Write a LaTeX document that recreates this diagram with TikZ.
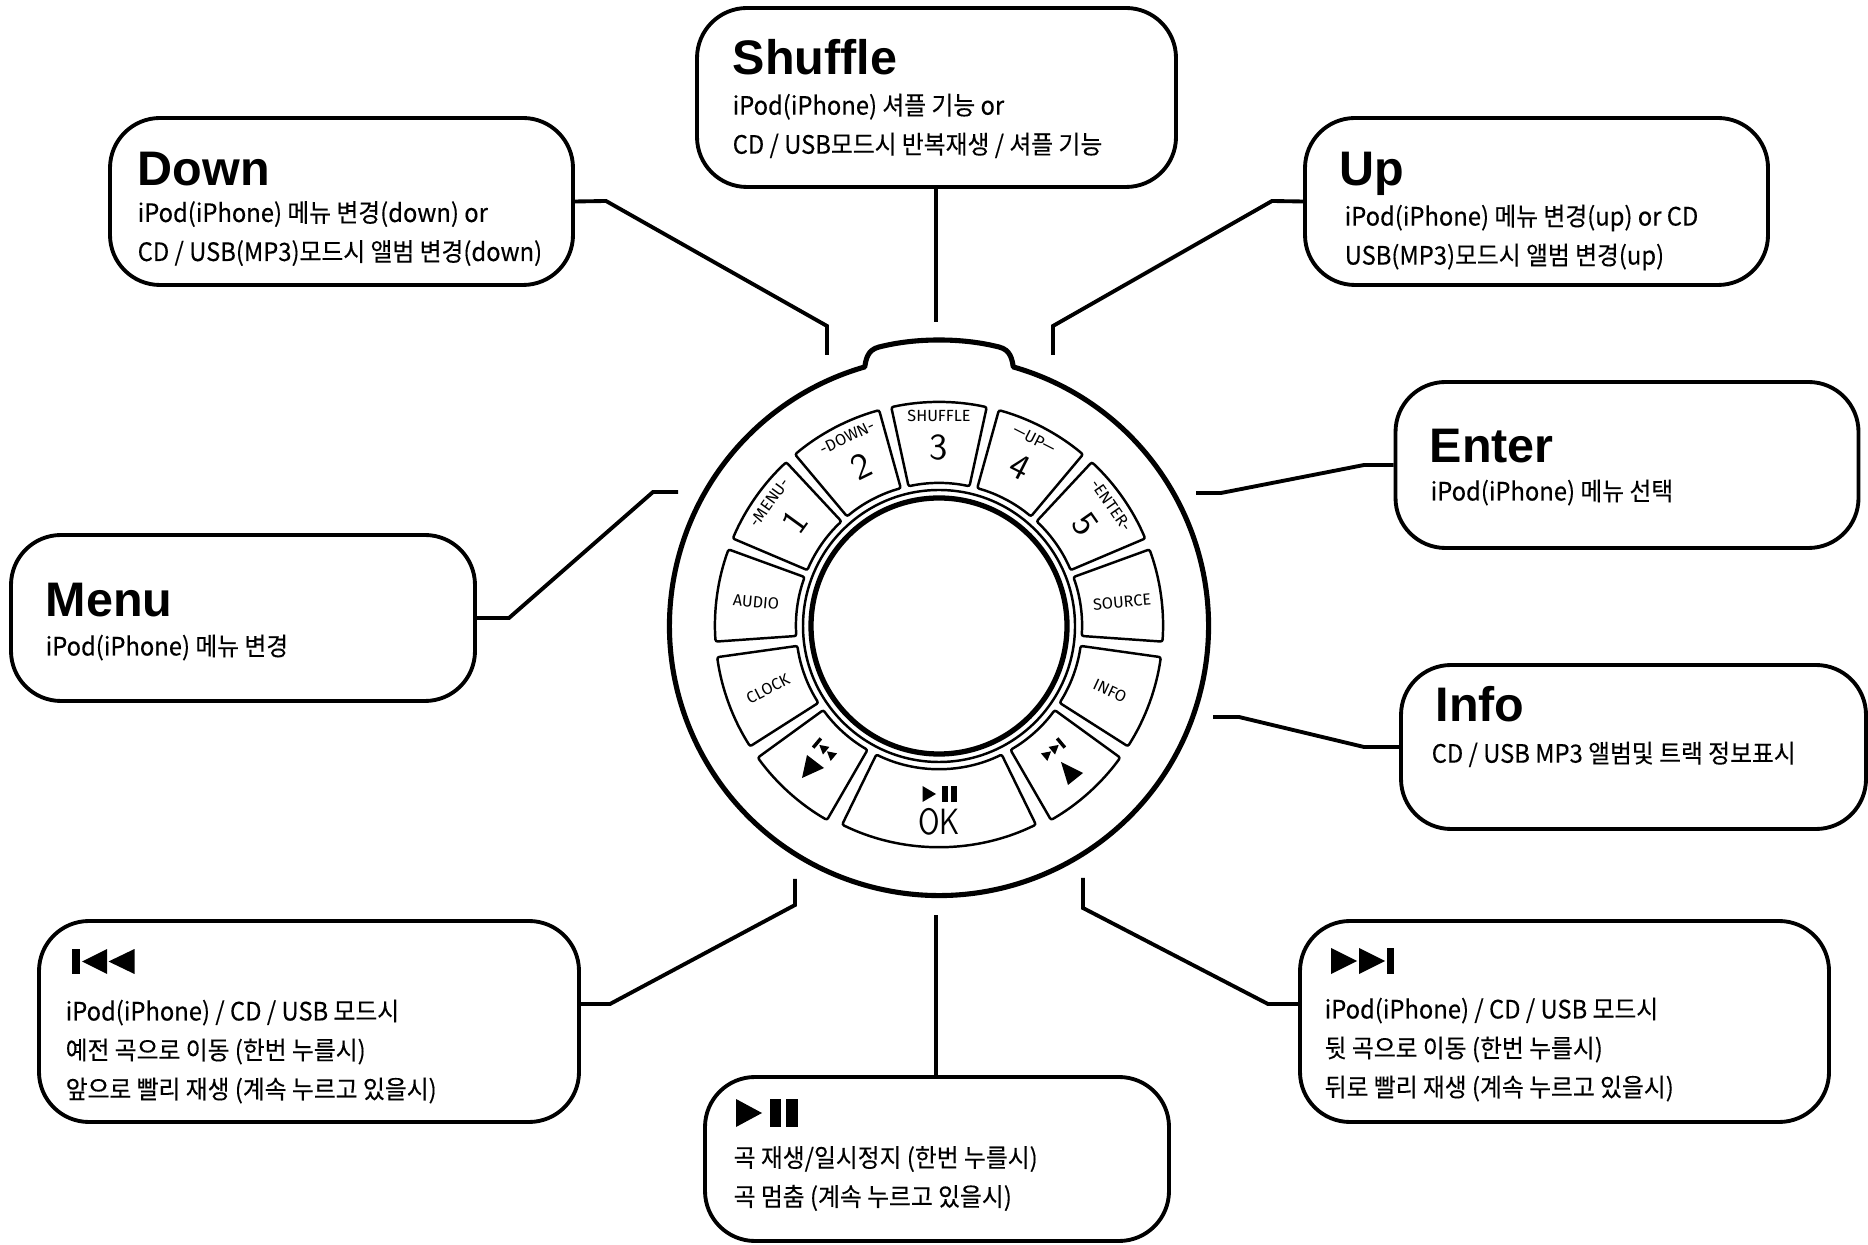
\documentclass[tikz,border=0pt]{standalone}
\usepackage{fontspec}
\usetikzlibrary{calc}
\newfontfamily\bodyfont[FakeStretch=.94,FakeBold=.25]{Noto Sans CJK KR}
\newfontfamily\titlefont{Liberation Sans}
\newfontfamily\dialfont{Fira Sans}
\tikzset{
  box/.style={draw, line width=1.1pt, rounded corners=.5cm, inner sep=0pt},
  leader/.style={line width=1.1pt},
  title/.style={anchor=base west, inner sep=0pt, font=\titlefont\bfseries\fontsize{13.8}{14}\selectfont},
  body/.style={anchor=west, inner sep=0pt, align=left, font=\bodyfont\fontsize{7.2}{11.1}\selectfont},
  dialbtn/.style={draw, line width=.7pt, rounded corners=.6pt},
  dialtext/.style={inner sep=0pt, font=\dialfont\fontsize{4.6}{5}\selectfont},
  dialdigit/.style={inner sep=0pt, font=\sffamily\fontsize{10.4}{11}\selectfont},
}
\begin{document}
\begin{tikzpicture}
\useasboundingbox (0,0) rectangle (18.68,12.44);

%boxes
\node[box, minimum width=4.79cm, minimum height=1.79cm] (boxShuffle) at (9.365,11.465) {};
\node[box, minimum width=4.63cm, minimum height=1.67cm] (boxDown) at (3.415,10.425) {};
\node[box, minimum width=4.63cm, minimum height=1.67cm] (boxUp) at (15.365,10.425) {};
\node[box, minimum width=4.63cm, minimum height=1.66cm] (boxEnter) at (16.27,7.79) {};
\node[box, minimum width=4.65cm, minimum height=1.64cm] (boxInfo) at (16.335,4.97) {};
\node[box, minimum width=5.29cm, minimum height=2.01cm] (boxNext) at (15.645,2.225) {};
\node[box, minimum width=4.64cm, minimum height=1.64cm] (boxPlay) at (9.37,.85) {};
\node[box, minimum width=5.40cm, minimum height=2.01cm] (boxPrev) at (3.09,2.225) {};
\node[box, minimum width=4.64cm, minimum height=1.66cm] (boxMenu) at (2.43,6.26) {};

%titles
\node[title] (titleShuffle) at (7.32,11.69) {Shuffle};
\node[title] (titleDown) at (1.37,10.58) {Down};
\node[title] (titleUp) at (13.39,10.58) {Up};
\node[title] (titleEnter) at (14.29,7.81) {Enter};
\node[title] (titleInfo) at (14.35,5.22) {Info};
\node[title] (titleMenu) at (.45,6.27) {Menu};

%texts
\node[body] (textShuffle) at (7.32,11.18) {iPod(iPhone) 셔플 기능 or\\CD / USB모드시 반복재생 / 셔플 기능};
\node[body] (textDown) at (1.37,10.105) {iPod(iPhone) 메뉴 변경(down) or\\CD / USB(MP3)모드시 앨범 변경(down)};
\node[body] (textUp) at (13.44,10.065) {iPod(iPhone) 메뉴 변경(up) or CD\\USB(MP3)모드시 앨범 변경(up)};
\node[body] (textEnter) at (14.30,7.515) {iPod(iPhone) 메뉴 선택};
\node[body] (textInfo) at (14.31,4.895) {CD / USB MP3 앨범및 트랙 정보표시};
\node[body] (textMenu) at (.45,5.965) {iPod(iPhone) 메뉴 변경};
\node[body] (textPrev) at (.65,1.925) {iPod(iPhone) / CD / USB 모드시\\예전 곡으로 이동 (한번 누를시)\\앞으로 빨리 재생 (계속 누르고 있을시)};
\node[body] (textNext) at (13.24,1.945) {iPod(iPhone) / CD / USB 모드시\\뒷 곡으로 이동 (한번 누를시)\\뒤로 빨리 재생 (계속 누르고 있을시)};
\node[body] (textPlay) at (7.33,.655) {곡 재생/일시정지 (한번 누를시)\\곡 멈춤 (계속 누르고 있을시)};

%box icons
\fill (.715,2.70) rectangle (.80,2.95);
\fill (.82,2.825) -- (1.07,2.95) -- (1.07,2.70) -- cycle;
\fill (1.085,2.825) -- (1.345,2.95) -- (1.345,2.70) -- cycle;

\fill (13.31,2.70) -- (13.57,2.83) -- (13.31,2.96) -- cycle;
\fill (13.59,2.70) -- (13.85,2.83) -- (13.59,2.96) -- cycle;
\fill (13.87,2.70) rectangle (13.94,2.96);

\fill (7.36,1.17) -- (7.62,1.31) -- (7.36,1.45) -- cycle;
\fill (7.70,1.17) rectangle (7.81,1.45);
\fill (7.86,1.17) rectangle (7.98,1.45);

%leaders
\coordinate (endDown) at (8.27,8.89);
\coordinate (endShuffle) at (9.36,9.22);
\coordinate (endUp) at (10.53,8.89);
\coordinate (endEnter) at (11.96,7.51);
\coordinate (endInfo) at (12.13,5.27);
\coordinate (endNext) at (10.83,3.66);
\coordinate (endPlay) at (9.36,3.29);
\coordinate (endPrev) at (7.95,3.65);
\coordinate (endMenu) at (6.78,7.52);
\coordinate (bendNext) at (12.68,2.40);
\coordinate (bendPrev) at (6.10,2.40);

\draw[leader] (boxDown.east) -- (6.06,10.43) -- (8.27,9.18) -- (endDown);
\draw[leader] (boxShuffle.south -| endShuffle) -- (endShuffle);
\draw[leader] (boxUp.west) -- (12.72,10.43) -- (10.53,9.18) -- (endUp);
\draw[leader] (boxEnter.west) -- (13.64,7.79) -- (12.21,7.51) -- (endEnter);
\draw[leader] (boxInfo.west) -- (13.64,4.97) -- (12.39,5.27) -- (endInfo);
\draw[leader] (boxNext.west |- bendNext) -- (bendNext) -- (10.83,3.36) -- (endNext);
\draw[leader] (boxPlay.north -| endPlay) -- (endPlay);
\draw[leader] (boxPrev.east |- bendPrev) -- (bendPrev) -- (7.95,3.39) -- (endPrev);
\draw[leader] (boxMenu.east) -- (5.09,6.26) -- (6.53,7.52) -- (endMenu);

%dial
\begin{scope}[shift={(9.39,6.18)}]
%shell
\draw[line width=1.45pt, line join=round] (74:2.695) arc[start angle=74, end angle=-254, radius=2.695]
  .. controls (-.73,2.66) and (-.72,2.76) .. (-.60,2.79)
  .. controls (-.40,2.84) and (-.20,2.86) .. (0,2.86)
  .. controls (.20,2.86) and (.40,2.84) .. (.60,2.79)
  .. controls (.72,2.76) and (.73,2.66) .. cycle;

%centre
\draw[line width=1.5pt] (0,0) circle (1.28);
\draw[line width=.7pt] (0,0) circle (1.36);

%buttons
\foreach \a/\b/\ro in {-12.3/12.3/2.24,15.5/40/2.24,43/67/2.24,70/94/2.24,98/122.5/2.24,126/150/2.24,154/206/2.21,210/234/2.24,237.5/262/2.24,266/290/2.24,293/317/2.24,320/344.5/2.24} {
\draw[dialbtn] ({90-\a}:\ro) arc[start angle={90-\a}, end angle={90-\b}, radius=\ro]
  -- ({90-\b}:1.43) arc[start angle={90-\b}, end angle={90-\a}, radius=1.43] -- cycle;
}

%numbered buttons
\foreach \lab/\dig/\ang in {-MENU-/1/-54, -DOWN-/2/-26, SHUFFLE/3/0, —UP—/4/27, -ENTER-/5/55} {
\node[dialtext, rotate=-\ang] (lab\dig) at ({90-\ang}:2.10) {\lab};
\node[dialdigit, rotate=-\ang] (dig\dig) at ({90-\ang}:1.78) {\dig};
}

\node[dialtext, rotate=-5] (labAudio) at (-1.83,.24) {AUDIO};
\node[dialtext, rotate=5] (labSource) at (1.83,.24) {SOURCE};
\node[dialtext, rotate=27] (labClock) at (-1.71,-.63) {CLOCK};
\node[dialtext, rotate=-25] (labInfo) at (1.71,-.65) {INFO};

%prev button
\fill (-1.32,-1.29) -- (-1.37,-1.52) -- (-1.15,-1.42) -- cycle;
\begin{scope}[shift={(-1.22,-1.17)}, rotate=-40]
\fill (-.017,-.06) rectangle (.017,.06);
\fill (.03,0) -- (.12,.05) -- (.12,-.05) -- cycle;
\fill (.13,0) -- (.22,.05) -- (.22,-.05) -- cycle;
\end{scope}

%next button
\fill (1.22,-1.36) -- (1.29,-1.59) -- (1.44,-1.47) -- cycle;
\begin{scope}[shift={(1.22,-1.17)}, rotate=40]
\fill (-.017,-.06) rectangle (.017,.06);
\fill (-.03,0) -- (-.12,.05) -- (-.12,-.05) -- cycle;
\fill (-.13,0) -- (-.22,.05) -- (-.22,-.05) -- cycle;
\end{scope}

%ok button
\fill (-.165,-1.60) -- (-.03,-1.68) -- (-.165,-1.76) -- cycle;
\fill (.03,-1.60) rectangle (.085,-1.76);
\fill (.12,-1.60) rectangle (.175,-1.76);
\node[dialdigit] (labOk) at (0,-1.96) {\scalebox{.8}[1]{OK}};
\end{scope}

\end{tikzpicture}
\end{document}
